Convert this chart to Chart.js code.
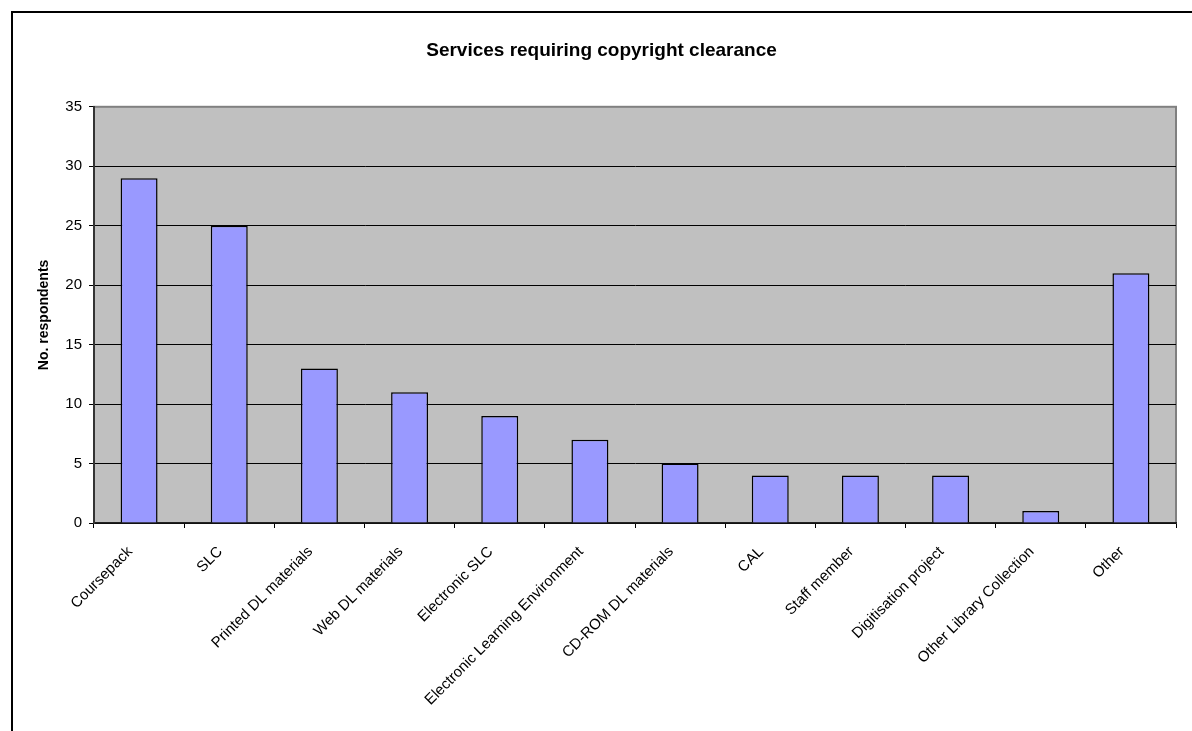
<!DOCTYPE html>
<html>
<head>
<meta charset="utf-8">
<script src="https://cdn.jsdelivr.net/npm/chart.js@4/dist/chart.umd.min.js"></script>
<style>
  html, body { margin: 0; padding: 0; background: #fff; overflow: hidden; }
  #frame { position: absolute; left: 11px; top: 11px; width: 2000px; height: 2000px;
           border-left: 2px solid #000; border-top: 2px solid #000; }
  #wrap { position: absolute; left: 0; top: 0; width: 1192px; height: 731px; }
</style>
</head>
<body>
<div id="frame"></div>
<div id="wrap"><canvas id="chart1"></canvas></div>
<script>
const categories = [
    "Coursepack", "SLC", "Printed DL materials", "Web DL materials", "Electronic SLC",
    "Electronic Learning Environment", "CD-ROM DL materials", "CAL", "Staff member",
    "Digitisation project", "Other Library Collection", "Other"
];
const respondents = [29, 25, 13, 11, 9, 7, 5, 4, 4, 4, 1, 21];
const yTicks = [0, 5, 10, 15, 20, 25, 30, 35];

const FONT = "'Liberation Sans', Arial, sans-serif";

// gray plot area with a gray frame, like the old spreadsheet charts
const plotArea = {
    id: 'plotArea',
    beforeDraw(chart) {
        const a = chart.chartArea;
        const ctx = chart.ctx;
        ctx.save();
        ctx.fillStyle = '#C0C0C0';
        ctx.fillRect(a.left, a.top, a.right - a.left, a.bottom - a.top);
        ctx.strokeStyle = '#808080';
        ctx.lineWidth = 2;
        ctx.strokeRect(a.left, a.top, a.right - a.left, a.bottom - a.top);
        ctx.restore();
    }
};

const ctx1 = document.getElementById('chart1').getContext('2d');
new Chart(ctx1, {
    type: 'bar',
    data: {
        labels: categories,
        datasets: [{
            label: 'No. respondents',
            data: respondents,
            backgroundColor: '#9999FF',
            borderColor: '#000000',
            borderWidth: 1.5,
            barPercentage: 0.41,
            categoryPercentage: 1
        }]
    },
    options: {
        responsive: true,
        maintainAspectRatio: false,
        animation: false,
        layout: { padding: { left: 11, top: 11, right: 0, bottom: 0 } },
        plugins: {
            legend: { display: false },
            tooltip: { enabled: false },
            title: {
                display: true,
                text: 'Services requiring copyright clearance',
                color: '#000',
                font: { family: FONT, size: 19, weight: 'bold' },
                padding: { top: 28, bottom: 45 }
            }
        },
        scales: {
            x: {
                grid: { display: true, drawOnChartArea: false, drawTicks: true, tickLength: 5, color: '#000', offset: true },
                border: { display: true, color: '#222', width: 1.5 },
                ticks: {
                    autoSkip: false, maxRotation: 45, minRotation: 45,
                    padding: 15, labelOffset: -9,
                    color: '#000', font: { family: FONT, size: 15 }
                },
                afterFit(s) { s.height = 208; }
            },
            y: {
                min: 0, max: 35,
                afterBuildTicks(s) { s.ticks = yTicks.map(v => ({ value: v })); },
                grid: {
                    color: c => c.tick && c.tick.value === 35 ? '#808080' : '#000',
                    tickColor: '#000', tickLength: 5, lineWidth: 1
                },
                border: { display: true, color: '#333', width: 2 },
                ticks: { padding: 7, color: '#000', font: { family: FONT, size: 15 } },
                title: {
                    display: true, text: 'No. respondents', color: '#000',
                    font: { family: FONT, size: 14, weight: 'bold' },
                    padding: { top: 25, bottom: 0 }
                },
                afterFit(s) { s.width = 83; }
            },
            // empty right-hand box so the plot ends before the right edge
            y2: {
                position: 'right',
                grid: { display: false },
                border: { display: false },
                ticks: { display: false },
                afterFit(s) { s.width = 16; }
            }
        }
    },
    plugins: [plotArea]
});
</script>
</body>
</html>
